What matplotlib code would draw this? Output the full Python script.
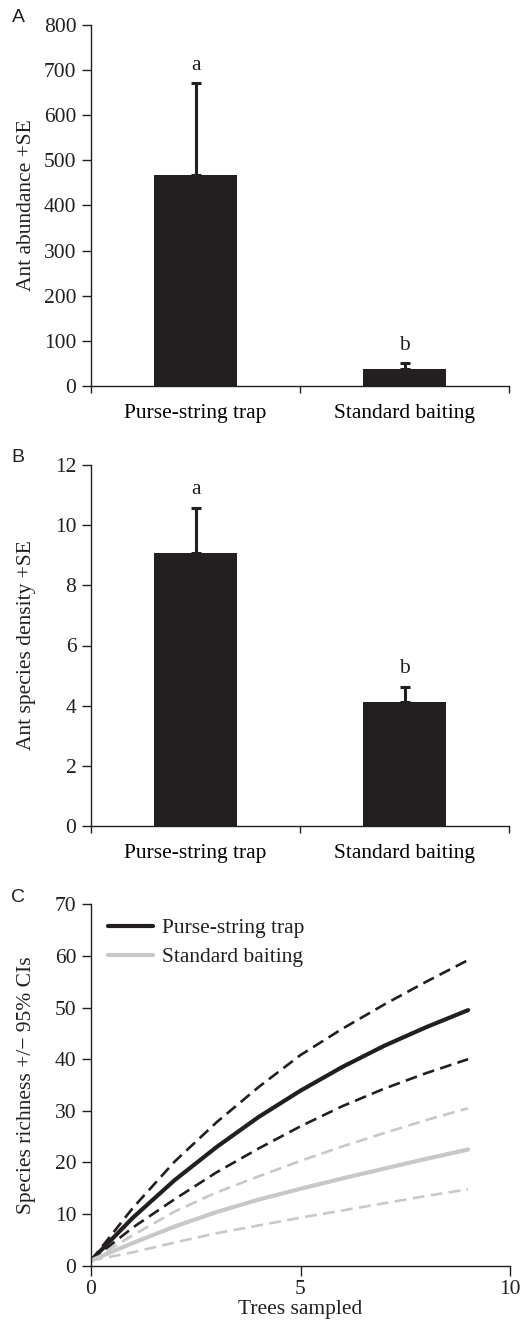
import matplotlib
matplotlib.use("Agg")
import matplotlib.pyplot as plt
import numpy as np

plt.rcParams['font.family'] = ['Liberation Serif', 'DejaVu Serif']

# ---- data ----
categories = ["Purse-string trap", "Standard baiting"]
abundance_mean = [468, 37]
abundance_se = [204, 13]
abundance_letters = ["a", "b"]

density_mean = [9.08, 4.11]
density_se = [1.49, 0.52]
density_letters = ["a", "b"]

trees = [0, 1, 2, 3, 4, 5, 6, 7, 8, 9]
pst_mean = [1, 9.3, 16.6, 23.0, 28.8, 33.9, 38.5, 42.6, 46.2, 49.5]
pst_upper = [1, 11.2, 20.2, 27.8, 34.6, 40.8, 45.9, 50.6, 55.0, 59.2]
pst_lower = [1, 7.4, 12.9, 18.1, 22.7, 27.0, 30.9, 34.3, 37.3, 40.0]
sb_mean = [1, 4.4, 7.6, 10.4, 12.8, 14.9, 16.9, 18.8, 20.7, 22.5]
sb_upper = [1, 5.9, 10.5, 14.2, 17.3, 20.3, 23.1, 25.7, 28.2, 30.5]
sb_lower = [1, 2.6, 4.5, 6.3, 7.8, 9.3, 10.7, 12.1, 13.5, 14.8]

BLACK = "#231f20"
GREY = "#c8c8c8"
FS = 15.5

W, H = 523, 1327
fig = plt.figure(figsize=(W / 100, H / 100), dpi=100)

def axes_px(left, right, top, bottom):
    return fig.add_axes([left / W, 1 - bottom / H, (right - left) / W, (bottom - top) / H])

def style(ax, ylabel):
    for s in ("top", "right"):
        ax.spines[s].set_visible(False)
    for s in ("left", "bottom"):
        ax.spines[s].set_color(BLACK)
        ax.spines[s].set_linewidth(1.0)
    ax.tick_params(colors=BLACK, labelsize=FS, width=1.0, direction="out")
    ax.tick_params(axis="y", length=6.5, pad=4)
    ax.set_ylabel(ylabel, fontsize=FS, color=BLACK)
    ax.yaxis.set_label_coords(-0.155, 0.5)
    ax.yaxis.label.set_verticalalignment("center")

def bar_panel(ax, means, ses, letters, ymax, ystep, ylabel, letter_off):
    pos = [0.5, 1.5]
    ax.bar(pos, means, width=0.4, color=BLACK, edgecolor="none", zorder=2)
    ax.errorbar(pos, means, yerr=[[0, 0], ses], fmt="none", ecolor=BLACK,
                elinewidth=2.2, capsize=3.3, capthick=2.2, zorder=1)
    for p, m, s, l in zip(pos, means, ses, letters):
        ax.text(p, m + s + letter_off, l, ha="center", va="bottom", fontsize=FS, color=BLACK)
    ax.set_xlim(0, 2)
    ax.set_ylim(0, ymax)
    ax.set_yticks(np.arange(0, ymax + ystep / 2, ystep))
    ax.set_xticks([0, 1, 2])
    ax.set_xticklabels([])
    ax.set_xticks(pos, minor=True)
    ax.set_xticklabels(categories, minor=True)
    style(ax, ylabel)
    ax.tick_params(axis="x", which="major", length=5)
    ax.tick_params(axis="x", which="minor", length=0, pad=13, labelsize=FS)

# Panel A
axA = axes_px(91, 509, 25, 386)
bar_panel(axA, abundance_mean, abundance_se, abundance_letters, 800, 100,
          "Ant abundance +SE", 18)

# Panel B
axB = axes_px(91, 509, 465, 826)
bar_panel(axB, density_mean, density_se, density_letters, 12, 2,
          "Ant species density +SE", 0.3)

# Panel C
axC = axes_px(91, 510, 904.3, 1265.7)
dash = (0, (4.5, 2.4))
axC.plot(trees, pst_upper, color=BLACK, lw=1.9, ls=dash)
axC.plot(trees, pst_lower, color=BLACK, lw=1.9, ls=dash)
axC.plot(trees, sb_upper, color=GREY, lw=1.9, ls=dash)
axC.plot(trees, sb_lower, color=GREY, lw=1.9, ls=dash)
l1, = axC.plot(trees, pst_mean, color=BLACK, lw=3.0, solid_capstyle="round",
               solid_joinstyle="round", label="Purse-string trap")
l2, = axC.plot(trees, sb_mean, color=GREY, lw=3.0, solid_capstyle="round",
               solid_joinstyle="round", label="Standard baiting")
axC.set_xlim(0, 10)
axC.set_ylim(0, 70)
axC.set_xticks([0, 5, 10])
axC.set_yticks(np.arange(0, 71, 10))
style(axC, "Species richness +/\u2212 95% CIs")
axC.tick_params(axis="x", length=7, pad=3)
axC.set_xlabel("Trees sampled", fontsize=FS, color=BLACK, labelpad=1)
leg = axC.legend(handles=[l1, l2], loc="upper left", bbox_to_anchor=(0.04, 0.962),
                 frameon=False, fontsize=FS, handlelength=2.1, handletextpad=0.4,
                 labelspacing=0.42, borderpad=0, borderaxespad=0)
for t in leg.get_texts():
    t.set_color(BLACK)

# panel letters
for lab, y in (("A", 18), ("B", 458), ("C", 897)):
    fig.text(18 / W, 1 - y / H, lab, fontsize=14, family="Liberation Sans",
             ha="center", va="center", color=BLACK)

fig.savefig("out.png", dpi=100)
